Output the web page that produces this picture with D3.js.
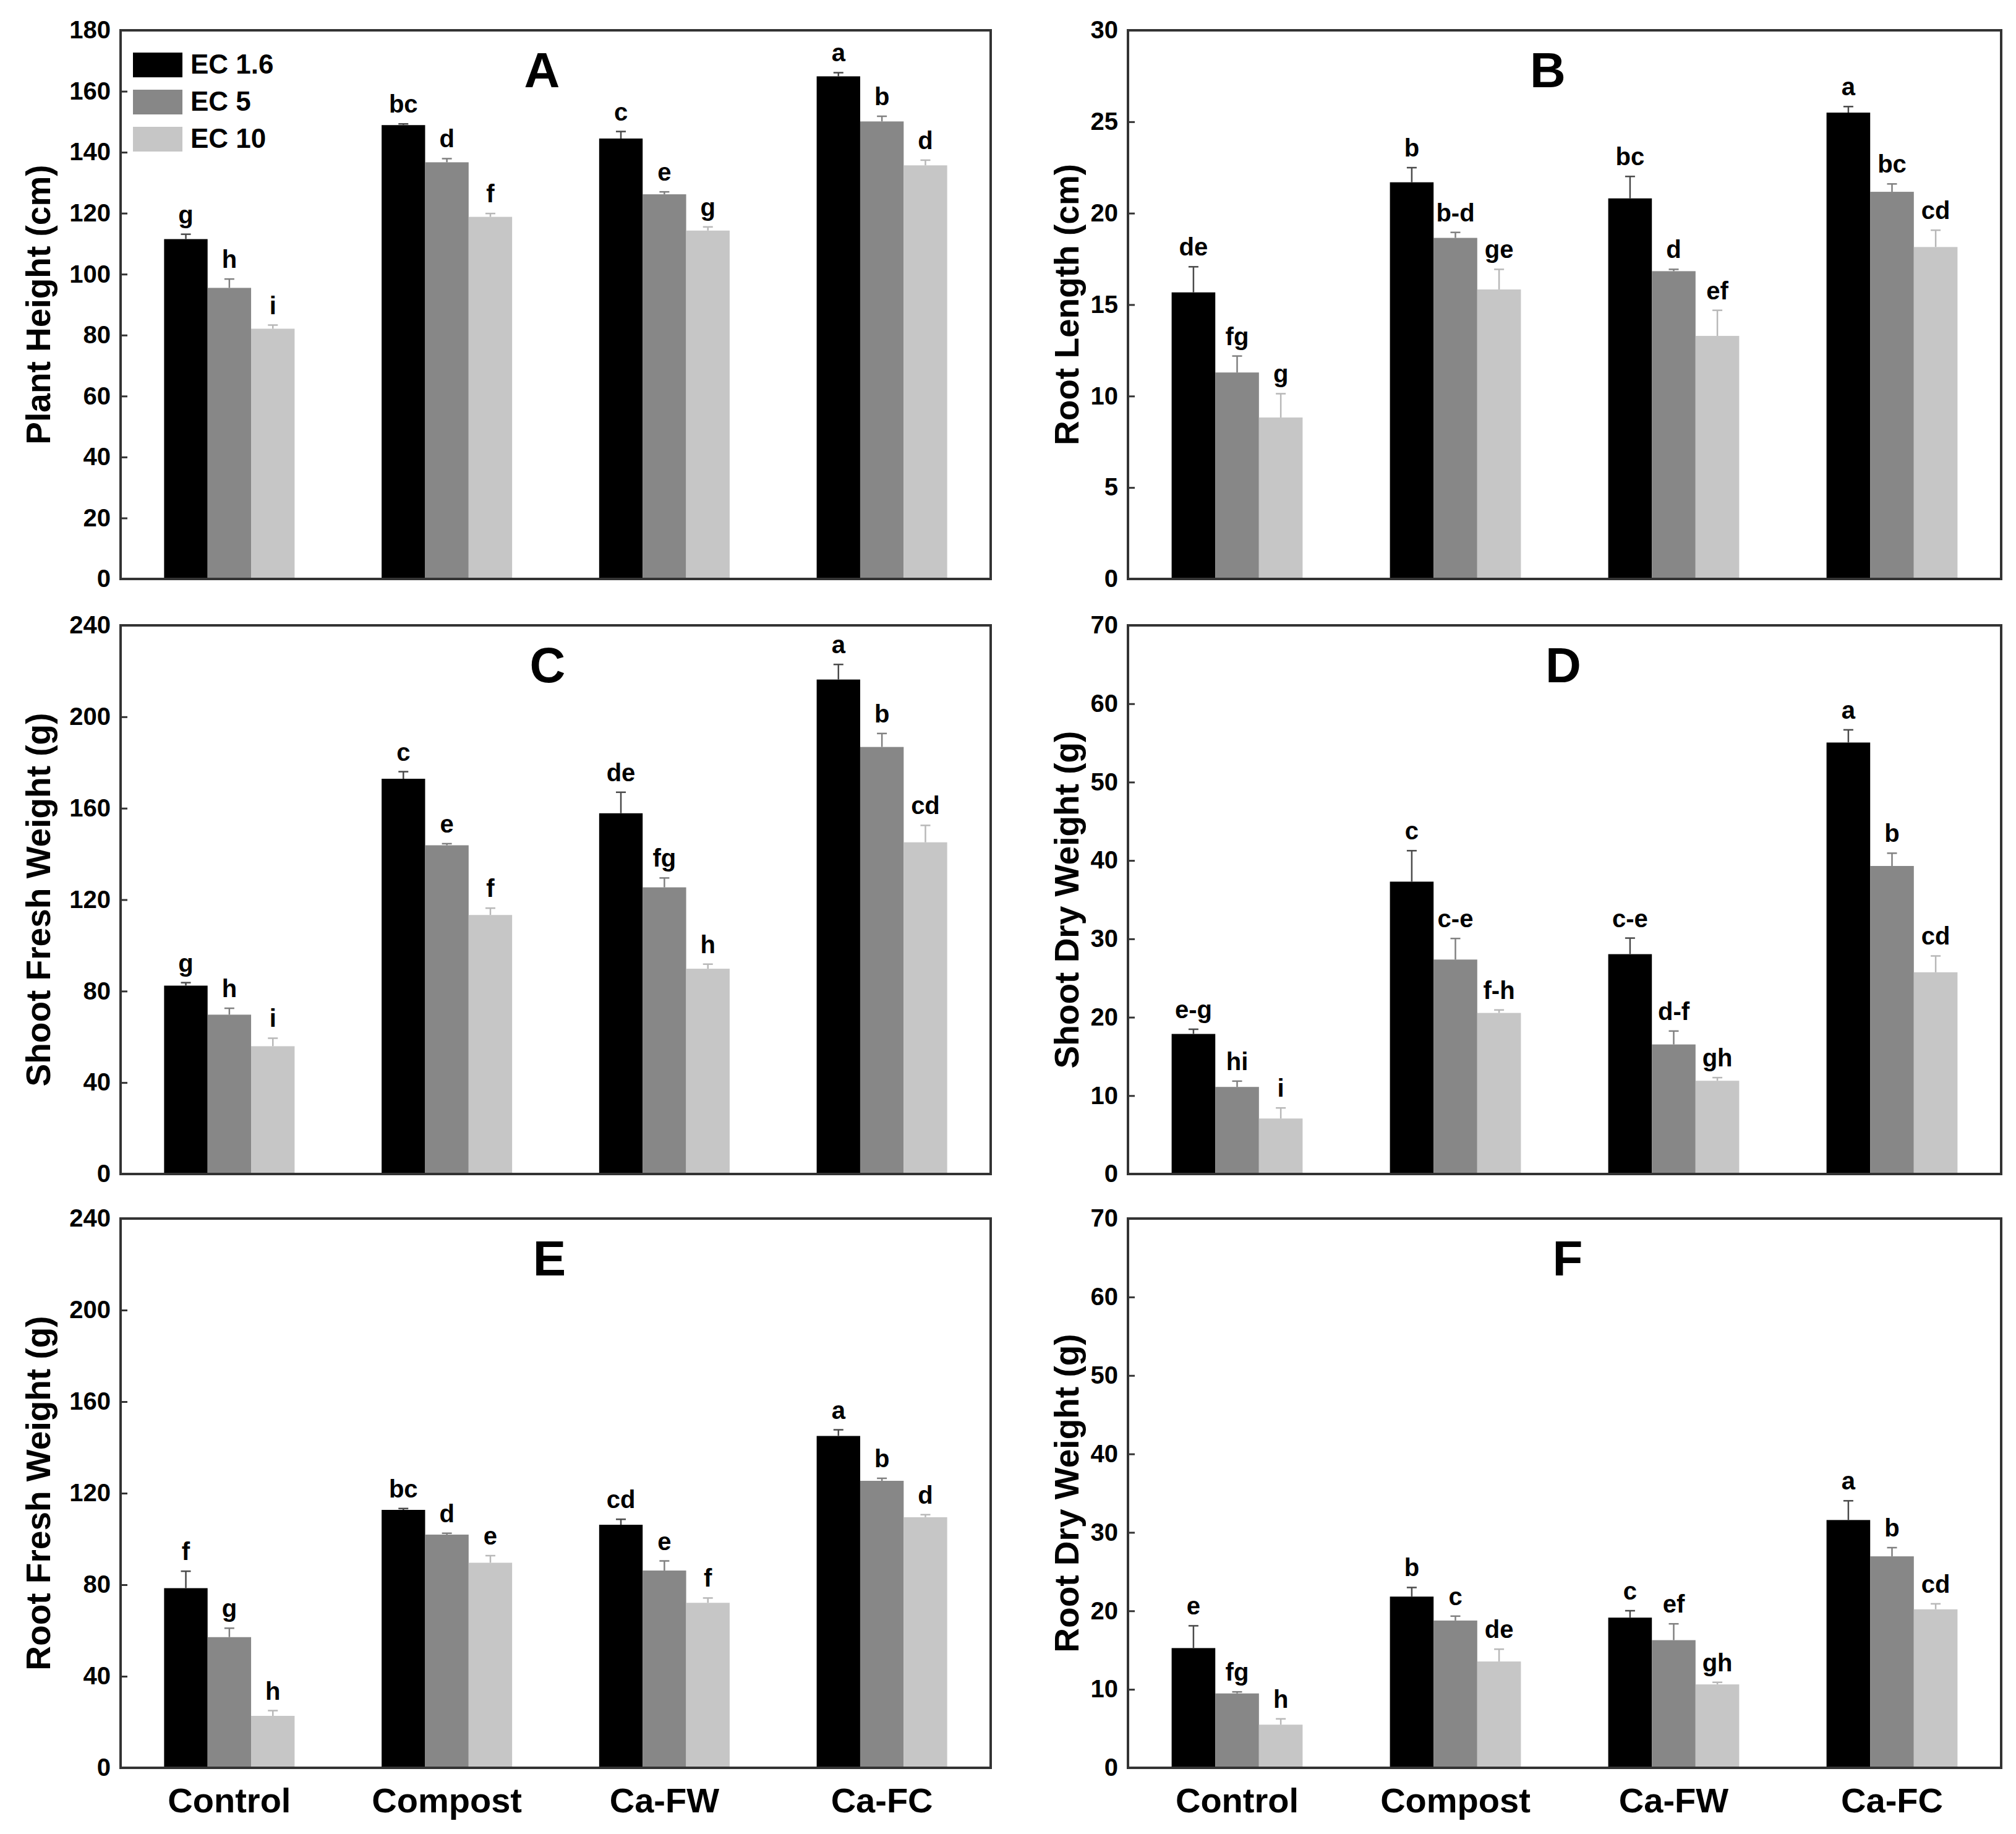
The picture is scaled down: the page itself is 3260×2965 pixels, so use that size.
<!DOCTYPE html>
<html>
<head>
<meta charset="utf-8">
<script src="https://cdn.jsdelivr.net/npm/d3@7"></script>
<style>
  body { margin: 0; background: #fff; }
  text { font-family: "Liberation Sans", Arial, sans-serif; font-weight: bold; fill: #000; }
</style>
</head>
<body>
<div id="chart"></div>
<script>
// treatments on x, salinity levels as series
const treatments = ['Control', 'Compost', 'Ca-FW', 'Ca-FC'];
const salinity = ['EC 1.6', 'EC 5', 'EC 10'];
const barColors = ['#000000', '#878787', '#c6c6c6'];
const errColors = ['#4a4a4a', '#808080', '#b8b8b8'];

// values are [treatment][salinity]
const plantHeight = [[111.5, 95.5, 82.1], [148.9, 136.7, 118.8], [144.5, 126.2, 114.3], [164.9, 150.1, 135.7]];
const plantHeightSE = [[1.6, 2.9, 1.2], [0.4, 1.2, 1.1], [2.3, 0.8, 1.2], [1.2, 1.7, 1.7]];
const plantHeightLetters = [['g', 'h', 'i'], ['bc', 'd', 'f'], ['c', 'e', 'g'], ['a', 'b', 'd']];

const rootLength = [[15.67, 11.29, 8.83], [21.69, 18.65, 15.83], [20.81, 16.83, 13.29], [25.5, 21.17, 18.15]];
const rootLengthSE = [[1.4, 0.9, 1.3], [0.8, 0.3, 1.1], [1.2, 0.1, 1.4], [0.33, 0.43, 0.92]];
const rootLengthLetters = [['de', 'fg', 'g'], ['b', 'b-d', 'ge'], ['bc', 'd', 'ef'], ['a', 'bc', 'cd']];

const shootFresh = [[82.4, 69.7, 55.9], [172.9, 143.8, 113.3], [157.8, 125.4, 89.8], [216.3, 186.8, 145.1]];
const shootFreshSE = [[1.3, 2.8, 3.5], [3.1, 0.7, 3.0], [9.2, 4.1, 2.0], [6.6, 5.9, 7.4]];
const shootFreshLetters = [['g', 'h', 'i'], ['c', 'e', 'f'], ['de', 'fg', 'h'], ['a', 'b', 'cd']];

const shootDry = [[17.87, 11.11, 7.08], [37.3, 27.36, 20.55], [28.05, 16.53, 11.9], [55.05, 39.3, 25.74]];
const shootDrySE = [[0.6, 0.74, 1.35], [3.95, 2.69, 0.38], [2.05, 1.71, 0.4], [1.62, 1.63, 2.08]];
const shootDryLetters = [['e-g', 'hi', 'i'], ['c', 'c-e', 'f-h'], ['c-e', 'd-f', 'gh'], ['a', 'b', 'cd']];

const rootFresh = [[78.5, 57.1, 22.7], [112.7, 101.9, 89.6], [106.2, 86.2, 72.1], [145.0, 125.4, 109.5]];
const rootFreshSE = [[7.4, 3.9, 2.3], [0.6, 0.6, 3.1], [2.4, 4.2, 2.1], [2.7, 1.1, 1.1]];
const rootFreshLetters = [['f', 'g', 'h'], ['bc', 'd', 'e'], ['cd', 'e', 'f'], ['a', 'b', 'd']];

const rootDry = [[15.26, 9.48, 5.5], [21.82, 18.77, 13.55], [19.14, 16.27, 10.63], [31.58, 26.95, 20.2]];
const rootDrySE = [[2.84, 0.2, 0.74], [1.16, 0.56, 1.57], [0.88, 2.08, 0.27], [2.45, 1.11, 0.7]];
const rootDryLetters = [['e', 'fg', 'h'], ['b', 'c', 'de'], ['c', 'ef', 'gh'], ['a', 'b', 'cd']];

const yMax = [180, 30, 240, 70, 240, 70];
const yStep = [20, 5, 40, 10, 40, 10];
const yTitles = ['Plant Height (cm)', 'Root Length (cm)', 'Shoot Fresh Weight (g)', 'Shoot Dry Weight (g)', 'Root Fresh Weight (g)', 'Root Dry Weight (g)'];
const panelNames = ['A', 'B', 'C', 'D', 'E', 'F'];

const panels = [
    {means: plantHeight, se: plantHeightSE, letters: plantHeightLetters},
    {means: rootLength, se: rootLengthSE, letters: rootLengthLetters},
    {means: shootFresh, se: shootFreshSE, letters: shootFreshLetters},
    {means: shootDry, se: shootDrySE, letters: shootDryLetters},
    {means: rootFresh, se: rootFreshSE, letters: rootFreshLetters},
    {means: rootDry, se: rootDrySE, letters: rootDryLetters}
];

const W = 3260, H = 2965;
const cols = [[195, 1602], [1824, 3236]];
const rows = [[49, 936], [1011, 1898], [1970, 2858]];
const titleOffset = [133, 99];
const letterShift = [-22, -27, -13, -2, -10, 5];

const svg = d3.select('#chart').append('svg').attr('width', W).attr('height', H);
svg.append('rect').attr('width', W).attr('height', H).attr('fill', '#fff');

panels.forEach((p, i) => {
    const col = i % 2, row = Math.floor(i / 2);
    const [x0, x1] = cols[col];
    const [y0, y1] = rows[row];
    const g = svg.append('g');

    const x = d3.scaleBand().domain(treatments).range([x0, x1]).paddingInner(0.4).paddingOuter(0.2);
    const xs = d3.scaleBand().domain(salinity).range([0, x.bandwidth()]);
    const y = d3.scaleLinear().domain([0, yMax[i]]).range([y1, y0]);

    const rowsData = [];
    treatments.forEach((t, ti) => salinity.forEach((s, si) => {
        rowsData.push({t, s, si, v: p.means[ti][si], e: p.se[ti][si], lab: p.letters[ti][si]});
    }));

    g.selectAll('rect.bar').data(rowsData).enter().append('rect').attr('class', 'bar')
        .attr('x', d => x(d.t) + xs(d.s))
        .attr('y', d => y(d.v))
        .attr('width', xs.bandwidth())
        .attr('height', d => y(0) - y(d.v))
        .attr('fill', d => barColors[d.si]);

    const cx = d => x(d.t) + xs(d.s) + xs.bandwidth() / 2;
    g.selectAll('line.err').data(rowsData).enter().append('line').attr('class', 'err')
        .attr('x1', cx).attr('x2', cx)
        .attr('y1', d => y(d.v)).attr('y2', d => y(d.v + d.e))
        .attr('stroke', d => errColors[d.si]).attr('stroke-width', 2.5);
    g.selectAll('line.cap').data(rowsData).enter().append('line').attr('class', 'cap')
        .attr('x1', d => cx(d) - 8).attr('x2', d => cx(d) + 8)
        .attr('y1', d => y(d.v + d.e)).attr('y2', d => y(d.v + d.e))
        .attr('stroke', d => errColors[d.si]).attr('stroke-width', 2.5);

    g.selectAll('text.sig').data(rowsData).enter().append('text').attr('class', 'sig')
        .attr('x', cx).attr('y', d => y(d.v + d.e) - 18)
        .attr('text-anchor', 'middle').style('font-size', '40px')
        .text(d => d.lab);

    // y axis with inward ticks
    const axis = d3.axisLeft(y).tickValues(d3.range(0, yMax[i] + 0.001, yStep[i]))
        .tickSizeInner(-11).tickSizeOuter(0).tickPadding(16);
    const ax = g.append('g').attr('transform', `translate(${x0},0)`).call(axis);
    ax.select('.domain').remove();
    ax.selectAll('line').attr('stroke', '#333').attr('stroke-width', 3);
    ax.selectAll('text').style('font-size', '40px').style('font-family', '"Liberation Sans", Arial, sans-serif');

    g.append('rect').attr('x', x0).attr('y', y0).attr('width', x1 - x0).attr('height', y1 - y0)
        .attr('fill', 'none').attr('stroke', '#333').attr('stroke-width', 4);

    g.append('text')
        .attr('transform', `translate(${x0 - titleOffset[col]},${(y0 + y1) / 2}) rotate(-90)`)
        .attr('text-anchor', 'middle').attr('dominant-baseline', 'central')
        .style('font-size', '55px').text(yTitles[i]);

    g.append('text').attr('x', (x0 + x1) / 2 + letterShift[i]).attr('y', y0 + 92)
        .attr('text-anchor', 'middle').style('font-size', '80px').text(panelNames[i]);

    if (row === 2) {
        g.selectAll('text.cat').data(treatments).enter().append('text').attr('class', 'cat')
            .attr('x', d => x(d) + x.bandwidth() / 2).attr('y', 2930)
            .attr('text-anchor', 'middle').style('font-size', '56px').text(d => d);
    }

    if (i === 0) {
        const leg = g.append('g');
        salinity.forEach((s, si) => {
            const ly = 85 + si * 60;
            leg.append('rect').attr('x', 215).attr('y', ly).attr('width', 80).attr('height', 40).attr('fill', barColors[si]);
            leg.append('text').attr('x', 308).attr('y', ly + 34).style('font-size', '44px').text(s);
        });
    }
});
</script>
</body>
</html>
